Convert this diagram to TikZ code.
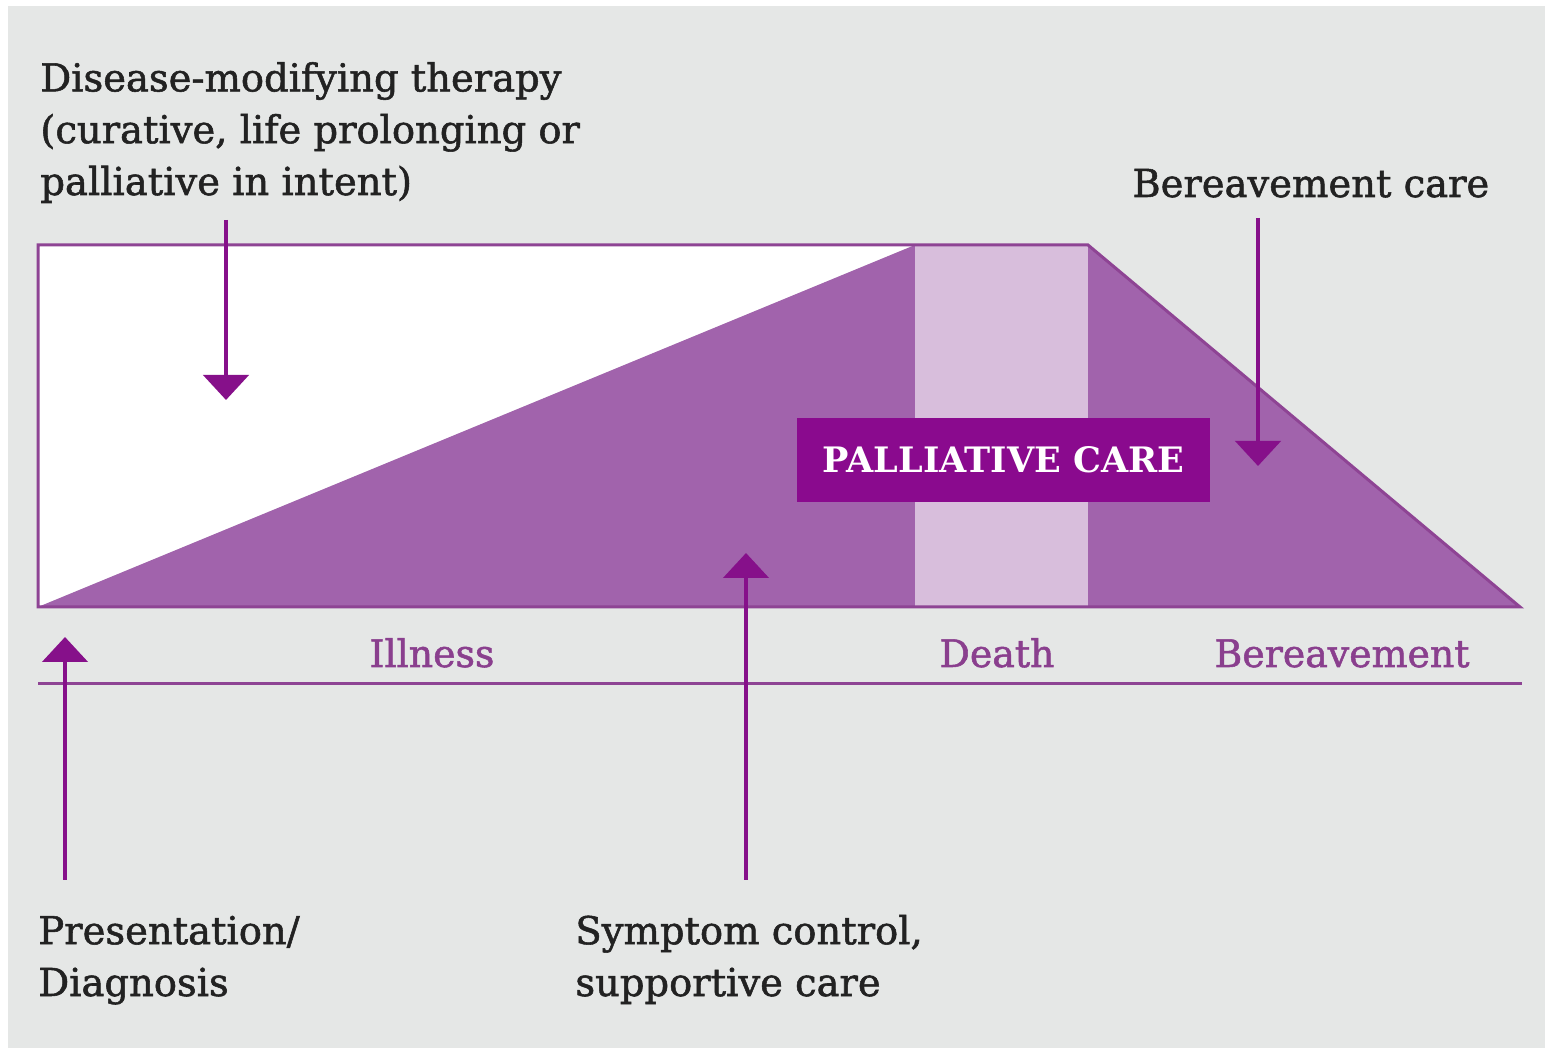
\documentclass[tikz,border=0pt]{standalone}
\usepackage{fontspec}
\setmainfont{DejaVu Serif}
\newfontfamily\heavyserif{DejaVu Serif}[FakeBold=1.4]
\usetikzlibrary{arrows.meta}

\definecolor{bggray}{HTML}{E5E7E6}
\definecolor{carefill}{HTML}{A163AC}
\definecolor{deathband}{HTML}{D8BEDC}
\definecolor{pcbox}{HTML}{8A0A8E}
\definecolor{arrowpurple}{HTML}{86108A}
\definecolor{edgepurple}{HTML}{8E4494}
\definecolor{labelpurple}{HTML}{8A3F8E}
\definecolor{textdark}{HTML}{222222}

\tikzset{
  textlabel/.style={inner sep=0pt,align=left,text=textdark,
    font=\heavyserif\fontsize{19.3}{26}\selectfont},
  phaselabel/.style={inner sep=0pt,text=labelpurple,
    font=\heavyserif\fontsize{19}{26}\selectfont},
}

\begin{document}
\begin{tikzpicture}[>={Triangle[length=12.5bp,width=22.5bp]},line join=miter,]
%%
\useasboundingbox (0bp,0bp) rectangle (773.5bp,526bp);
\fill [white] (0bp,0bp) rectangle (773.5bp,526bp);
\fill [bggray] (4bp,2bp) rectangle (772.5bp,523bp);
%% care areas
\fill [white] (19bp,222.5bp) -- (19bp,403.5bp) -- (457.5bp,403.5bp) -- cycle;
\fill [carefill] (19bp,222.5bp) -- (457.5bp,403.5bp) -- (457.5bp,222.5bp) -- cycle;
\fill [deathband] (457.5bp,222.5bp) rectangle (544bp,403.5bp);
\fill [carefill] (544bp,403.5bp) -- (760bp,222.5bp) -- (544bp,222.5bp) -- cycle;
\draw [edgepurple,line width=1.5bp] (19bp,222.5bp) -- (19bp,403.5bp) -- (544bp,403.5bp)
  -- (760bp,222.5bp) -- cycle;
%% time line
\draw [edgepurple,line width=1.5bp] (19bp,184bp) -- (761bp,184bp);
%
\node (node_pc) at (501.75bp,296bp) [fill=pcbox,minimum width=206.5bp,minimum height=42bp,
  text=white,font=\bfseries\fontsize{17.6}{20}\selectfont] {PALLIATIVE CARE};
%
\node (node_dmt) at (20bp,428.5bp) [anchor=base west,textlabel]
  {Disease-modifying therapy\\(curative, life prolonging or\\palliative in intent)};
\node (node_bc) at (566bp,427.5bp) [anchor=base west,textlabel] {Bereavement care};
\node (node_pd) at (19bp,28bp) [anchor=base west,textlabel] {Presentation/\\Diagnosis};
\node (node_sc) at (287.5bp,28bp) [anchor=base west,textlabel]
  {Symptom control,\\supportive care};
\node (node_ill) at (216bp,192.5bp) [anchor=base,phaselabel] {Illness};
\node (node_death) at (498.5bp,192.5bp) [anchor=base,phaselabel] {Death};
\node (node_ber) at (671bp,192.5bp) [anchor=base,phaselabel] {Bereavement};
%% arrow ends
\coordinate (from_dmt) at (113bp,416bp);
\coordinate (to_dmt) at (113bp,326bp);
\coordinate (from_bc) at (629bp,417bp);
\coordinate (to_bc) at (629bp,293bp);
\coordinate (from_pd) at (32.5bp,86bp);
\coordinate (to_pd) at (32.5bp,207.5bp);
\coordinate (from_sc) at (373bp,86bp);
\coordinate (to_sc) at (373bp,249.5bp);
\draw [arrowpurple,line width=2.4bp,->] (from_dmt) -- (to_dmt);
\draw [arrowpurple,line width=2.4bp,->] (from_bc) -- (to_bc);
\draw [arrowpurple,line width=2.4bp,->] (from_pd) -- (to_pd);
\draw [arrowpurple,line width=2.4bp,->] (from_sc) -- (to_sc);
%
\end{tikzpicture}
\end{document}
